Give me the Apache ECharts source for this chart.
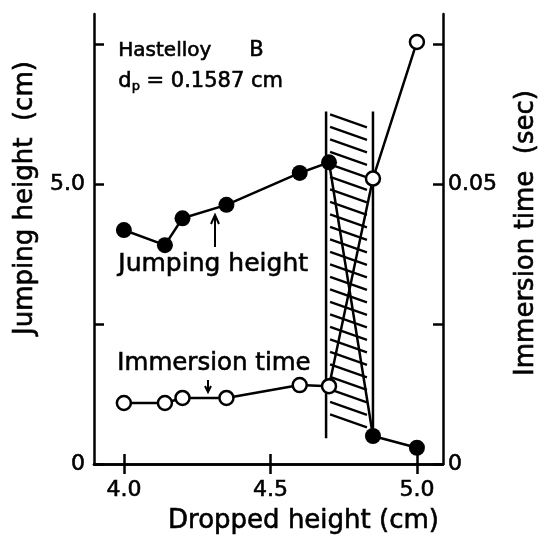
<!DOCTYPE html>
<html>
<head>
<meta charset="utf-8">
<script src="https://cdn.jsdelivr.net/npm/echarts@6/dist/echarts.min.js"></script>
<style>
html, body { margin: 0; padding: 0; background: #fff; }
#main { width: 554px; height: 545px; }
</style>
</head>
<body>
<div id="main"></div>
<script>
// dropped height (cm) for each run
var droppedHeight = [4.0, 4.14, 4.2, 4.35, 4.6, 4.7, 4.85, 5.0];
// jumping height (cm), filled circles
var jumpingHeight = [4.18, 3.91, 4.39, 4.63, 5.2, 5.39, 0.5, 0.29];
// immersion time (sec), open circles
var immersionTime = [0.0109, 0.0109, 0.0118, 0.0118, 0.0141, 0.0139, 0.051, 0.0754];

var xTicks = [4.0, 4.5, 5.0];
var leftTicks = [0, 2.5, 5.0, 7.5];
var leftLabels = [0, 5.0];
var rightTicks = [0, 0.025, 0.05, 0.075];
var rightLabels = [0, 0.05];
// hatched transition band: x from, x to, top, bottom of left edge, bottom of right edge (cm)
var band = [4.69, 4.85, 6.3, 0.46, 0.6];

var FONT = 'DejaVu Sans';

function pairs(xs, ys) {
	var out = [];
	for (var i = 0; i < xs.length; i++) out.push([xs[i], ys[i]]);
	return out;
}

function renderBand(params, api) {
	var tl = api.coord([api.value(0), api.value(2)]);
	var bl = api.coord([api.value(0), api.value(3)]);
	var tr = api.coord([api.value(1), api.value(2)]);
	var br = api.coord([api.value(1), api.value(4)]);
	var st = { stroke: '#000', lineWidth: 2.5 };
	var kids = [
		{ type: 'line', shape: { x1: tl[0], y1: tl[1], x2: bl[0], y2: bl[1] }, style: st },
		{ type: 'line', shape: { x1: tr[0], y1: tr[1], x2: br[0], y2: br[1] }, style: st }
	];
	for (var y = tl[1] + 3; y < bl[1] - 14; y += 12.5) {
		kids.push({ type: 'line', shape: { x1: tl[0] + 4, y1: y, x2: tr[0] - 6, y2: y + 13 },
			style: { stroke: '#000', lineWidth: 2.2 } });
	}
	return { type: 'group', children: kids };
}

function txt(s, x, y, size) {
	return { type: 'text', left: x, top: y, style: { text: s, fill: '#000',
		font: size + 'px "DejaVu Sans"', stroke: '#000', lineWidth: 0.6 } };
}

var myChart = echarts.init(document.getElementById('main'));

var axisLine = { show: true, lineStyle: { color: '#000', width: 2.5 } };
var tickStyle = { color: '#000', width: 2.5 };
var labelStyle = { color: '#000', fontSize: 22, fontFamily: FONT, textBorderColor: '#000', textBorderWidth: 0.6 };
var nameStyle = { color: '#000', fontFamily: FONT, textBorderColor: '#000', textBorderWidth: 0.6 };

option = {
	animation: false,
	backgroundColor: '#fff',
	grid: { left: 94, right: 111, top: 14, bottom: 81 },
	xAxis: [
		{
			type: 'value', position: 'bottom', min: 3.898, max: 5.089,
			axisLine: axisLine,
			axisTick: { inside: true, length: 10, lineStyle: tickStyle, customValues: xTicks },
			axisLabel: Object.assign({ customValues: xTicks, margin: 15,
				formatter: function (v) { return v.toFixed(1); } }, labelStyle),
			splitLine: { show: false },
			name: 'Dropped height (cm)', nameLocation: 'middle', nameGap: 44,
			nameTextStyle: Object.assign({ fontSize: 26, padding: [0, 0, 0, 70] }, nameStyle)
		},
		{
			type: 'value', position: 'top', min: 3.898, max: 5.089,
			axisLine: axisLine,
			axisTick: { inside: true, length: 10, lineStyle: tickStyle, customValues: xTicks },
			axisLabel: { show: false },
			splitLine: { show: false }
		}
	],
	yAxis: [
		{
			type: 'value', position: 'left', min: 0, max: 8.04,
			axisLine: axisLine,
			axisTick: { inside: true, length: 10, lineStyle: tickStyle, customValues: leftTicks },
			axisLabel: Object.assign({ customValues: leftLabels, margin: 9,
				formatter: function (v) { return v === 0 ? '0' : v.toFixed(1); } }, labelStyle),
			splitLine: { show: false },
			name: 'Jumping height  (cm)', nameLocation: 'middle', nameGap: 54, nameRotate: 90,
			nameTextStyle: Object.assign({ fontSize: 26, padding: [0, 0, 0, 82] }, nameStyle)
		},
		{
			type: 'value', position: 'right', min: 0, max: 0.0804,
			axisLine: axisLine,
			axisTick: { inside: true, length: 10, lineStyle: tickStyle, customValues: rightTicks },
			axisLabel: Object.assign({ customValues: rightLabels, margin: 5,
				formatter: function (v) { return v === 0 ? '0' : String(v); } }, labelStyle),
			splitLine: { show: false },
			name: 'Immersion time  (sec)', nameLocation: 'middle', nameGap: 70, nameRotate: 90,
			nameTextStyle: Object.assign({ fontSize: 26, padding: [0, 0, 0, 12] }, nameStyle)
		}
	],
	graphic: [
		txt('Hastelloy', 118, 40, 20),
		txt('B', 249, 40, 21),
		{ type: 'text', left: 118, top: 71, style: {
			text: 'd{s|p} = 0.1587 cm', fill: '#000', fontSize: 21, fontFamily: FONT, stroke: '#000', lineWidth: 0.6,
			rich: { s: { fontSize: 13, fontFamily: FONT, fill: '#000', padding: [10, 0, 0, 0] } } } },
		txt('Jumping height', 118, 252, 25),
		{ type: 'polyline', shape: { points: [[215, 247], [215, 216]] }, style: { stroke: '#000', lineWidth: 2 } },
		{ type: 'polyline', shape: { points: [[211, 224], [215, 215], [219, 224]] }, style: { stroke: '#000', lineWidth: 2, fill: null } },
		txt('Immersion time', 117, 351, 24.5),
		{ type: 'polyline', shape: { points: [[208, 380], [208, 391]] }, style: { stroke: '#000', lineWidth: 2 } },
		{ type: 'polyline', shape: { points: [[205, 386], [208, 392], [211, 386]] }, style: { stroke: '#000', lineWidth: 2, fill: null } }
	],
	series: [
		{
			type: 'custom', xAxisIndex: 0, yAxisIndex: 0, z: 1,
			renderItem: renderBand,
			data: [band]
		},
		{
			name: 'Jumping height', type: 'line', xAxisIndex: 0, yAxisIndex: 0, z: 3,
			data: pairs(droppedHeight, jumpingHeight),
			symbol: 'circle', symbolSize: 16, showAllSymbol: true,
			itemStyle: { color: '#000' },
			lineStyle: { color: '#000', width: 2.5 }
		},
		{
			name: 'Immersion time', type: 'line', xAxisIndex: 0, yAxisIndex: 1, z: 4,
			data: pairs(droppedHeight, immersionTime),
			symbol: 'circle', symbolSize: 14, showAllSymbol: true,
			itemStyle: { color: '#fff', borderColor: '#000', borderWidth: 2.5 },
			lineStyle: { color: '#000', width: 2.5 }
		}
	]
};
myChart.setOption(option);
</script>
</body>
</html>
